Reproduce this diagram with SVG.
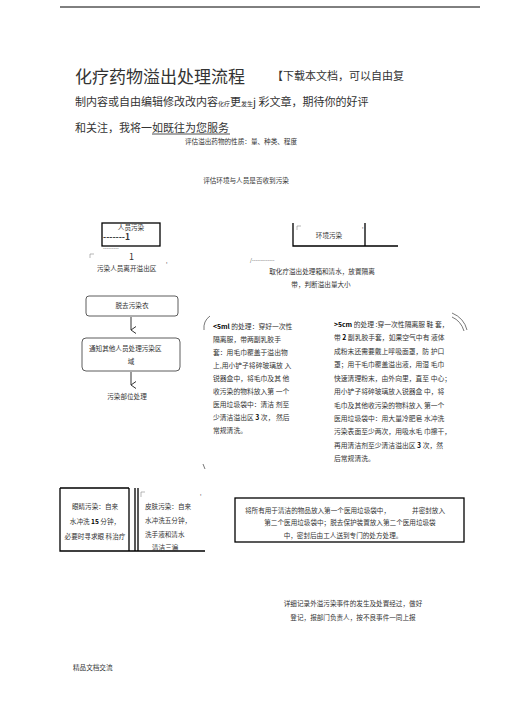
<svg xmlns="http://www.w3.org/2000/svg" width="505" height="714" viewBox="0 0 505 714">
<style>
text{font-family:"Noto Sans CJK SC","Liberation Sans",sans-serif;fill:#333}
.t{font-size:17px;fill:#333}
.h{font-size:11px;fill:#333}
.s{font-size:6.6px}
.m{font-size:6.8px}
.box{fill:none;stroke:#000;stroke-width:1.3}
.rb{fill:none;stroke:#333;stroke-width:0.8}
.ln{fill:none;stroke:#000;stroke-width:1.3}
.mk{fill:none;stroke:#888;stroke-width:0.6}
.b{font-weight:bold;fill:#000}
</style>
<defs>
<marker id="ah" markerWidth="8" markerHeight="8" refX="4" refY="6" orient="auto" markerUnits="userSpaceOnUse">
<path d="M0.5,1 L4,6 L7.5,1" fill="none" stroke="#333" stroke-width="1"/>
</marker>
</defs>
<line x1="60" y1="7" x2="480" y2="7" stroke="#000" stroke-width="1"/>
<g id="header">
<text class="t" x="75" y="83">化疗药物溢出处理流程</text>
<text class="h" x="272" y="80" font-size="10.5">【下载本文档，可以自由复</text>
<text class="h" x="75" y="106">制内容或自由编辑修改改内容<tspan font-size="6">化疗</tspan>更<tspan font-size="6">发生</tspan>j 彩文章，期待你的好评</text>
<text class="h" x="75" y="132">和关注，我将一如既往为您服务</text>
<line x1="152" y1="134" x2="230" y2="134" stroke="#222" stroke-width="0.8"/>
</g>
<g id="assess1"><text class="s" x="241" y="144" text-anchor="middle">评估溢出药物的性质：量、种类、程度</text></g>
<g id="assess2"><text class="s" x="246" y="183" text-anchor="middle">评估环境与人员是否收到污染</text></g>
<g id="person">
<rect class="box" x="102" y="223" width="58" height="23"/>
<text class="s" x="131" y="230" text-anchor="middle">人员污染</text>
<text x="103" y="240" font-size="8.5" fill="#000" font-weight="bold">-------1</text>
<text x="103" y="250" font-size="5" fill="#000">---------</text>
<text x="129" y="260" font-size="9" fill="#000">1</text>
<path class="mk" d="M90,258 V254 H94"/>
<text x="166" y="263" font-size="5" fill="#888">,</text>
<text class="s" x="97" y="271">污染人员离开溢出区</text>
</g>
<g id="environment">
<path class="ln" d="M293,223 V246 H398 M365,223 V246"/>
<path class="mk" d="M297,230 V226 H301"/>
<text x="362" y="228" font-size="5" fill="#888">,</text>
<text class="s" x="329" y="238" text-anchor="middle">环境污染</text>
<text x="250" y="262" font-size="5" fill="#555">/-------------</text>
<text class="s" x="322" y="274" text-anchor="middle">取化疗溢出处理箱和清水，放置隔离</text>
<text class="s" x="321" y="287" text-anchor="middle">带，判断溢出量大小</text>
</g>
<g id="undress">
<rect class="rb" x="86" y="296" width="92" height="20" rx="3"/>
<text class="s" x="132" y="308" text-anchor="middle">脱去污染衣</text>
</g>
<g id="notify">
<rect class="rb" x="82" y="338" width="98" height="33" rx="4"/>
<text class="s" x="89" y="351">通知其他人员处理污染区</text>
<text class="s" x="131" y="364" text-anchor="middle">域</text>
</g>
<g id="site"><text class="s" x="127" y="399" text-anchor="middle">污染部位处理</text></g>
<g id="small-spill">
<path d="M210,316 Q203,321 204,330" fill="none" stroke="#555" stroke-width="0.8"/>
<path d="M203,464 L205,469" fill="none" stroke="#555" stroke-width="0.8"/>
<text class="m" x="213" y="329"><tspan class="b">&lt;5ml</tspan> 的处理：穿好一次性</text>
<text class="m" x="213" y="342">隔离服，带两副乳胶手</text>
<text class="m" x="213" y="355">套：用毛巾覆盖于溢出物</text>
<text class="m" x="213" y="368">上,用小铲子将碎玻璃放 入</text>
<text class="m" x="213" y="381">锐器盒中，将毛巾及其 他</text>
<text class="m" x="213" y="394">收污染的物料放入第 一个</text>
<text class="m" x="213" y="407">医用垃圾袋中：清洁 剂至</text>
<text class="m" x="213" y="420">少清洁溢出区 <tspan class="b">3</tspan> 次， 然后</text>
<text class="m" x="213" y="433">常规清洗。</text>
</g>
<g id="large-spill">
<path d="M452,313 Q464,318 467,330" fill="none" stroke="#555" stroke-width="0.8"/>
<path d="M452,317 Q461,321 464,331" fill="none" stroke="#555" stroke-width="0.8"/>
<text class="m" x="334" y="327"><tspan class="b">&gt;5cm</tspan> 的处理 :穿一次性隔离服 鞋 套，</text>
<text class="m" x="334" y="340">带 <tspan class="b">2</tspan> 副乳胶手套，如果空气中有 液体</text>
<text class="m" x="334" y="354">成粉末还需要戴上呼吸面罩，防 护口</text>
<text class="m" x="334" y="367">罩；用干毛巾覆盖溢出液，用湿 毛巾</text>
<text class="m" x="334" y="381">快速清理粉末，由外向里，直至 中心；</text>
<text class="m" x="334" y="394">用小铲子将碎玻璃放入锐器盒 中，将</text>
<text class="m" x="334" y="408">毛巾及其他收污染的物料放入 第一个</text>
<text class="m" x="334" y="421">医用垃圾袋中：用大量冷肥皂 水冲洗</text>
<text class="m" x="334" y="434">污染表面至少两次，用吸水毛 巾擦干，</text>
<text class="m" x="334" y="448">再用清洁剂至少清洁溢出区 <tspan class="b">3</tspan> 次，然</text>
<text class="m" x="334" y="461">后常规清洗。</text>
</g>
<g id="eye">
<path class="ln" d="M60,488 V551 H205 M129,488 V551 M60,488 H129"/>
<text class="s" x="95" y="509" text-anchor="middle">眼睛污染：自来</text>
<text class="s" x="95" y="524" text-anchor="middle">水冲洗 <tspan class="b">15</tspan> 分钟，</text>
<text class="s" x="95" y="539" text-anchor="middle">必要时寻求眼 科治疗</text>
</g>
<g id="skin">
<path class="ln" d="M135,488 V551 M138,488 V551"/>
<path class="mk" d="M141,497 V492 H145"/>
<text x="200" y="495" font-size="5" fill="#888">,</text>
<text class="s" x="145" y="509">皮肤污染：自来</text>
<text class="s" x="145" y="523">水冲洗五分钟，</text>
<text class="s" x="145" y="537">洗手液和清水</text>
<text class="s" x="152" y="550">清洁三遍</text>
</g>
<g id="dispose">
<rect class="box" x="235" y="498" width="229" height="44"/>
<text class="s" x="245" y="513">将所有用于清洁的物品放入第一个医用垃圾袋中，<tspan dx="22">并密封放入</tspan></text>
<text class="s" x="350" y="525" text-anchor="middle">第二个医用垃圾袋中；脱去保护装置放入第二个医用垃圾袋</text>
<text class="s" x="343" y="538" text-anchor="middle">中，密封后由工人送到专门的处方处理。</text>
</g>
<g id="record">
<text class="s" x="353" y="606" text-anchor="middle">详细记录外溢污染事件的发生及处置经过，做好</text>
<text class="s" x="353" y="620" text-anchor="middle">登记，报部门负责人，按不良事件一同上报</text>
</g>
<g id="footer"><text class="s" x="73" y="670">精品文档交流</text></g>
<g id="connectors">
<line x1="131" y1="317" x2="131" y2="330" stroke="#333" stroke-width="1" marker-end="url(#ah)"/>
<line x1="131" y1="372" x2="131" y2="385" stroke="#333" stroke-width="1" marker-end="url(#ah)"/>
</g>
</svg>
